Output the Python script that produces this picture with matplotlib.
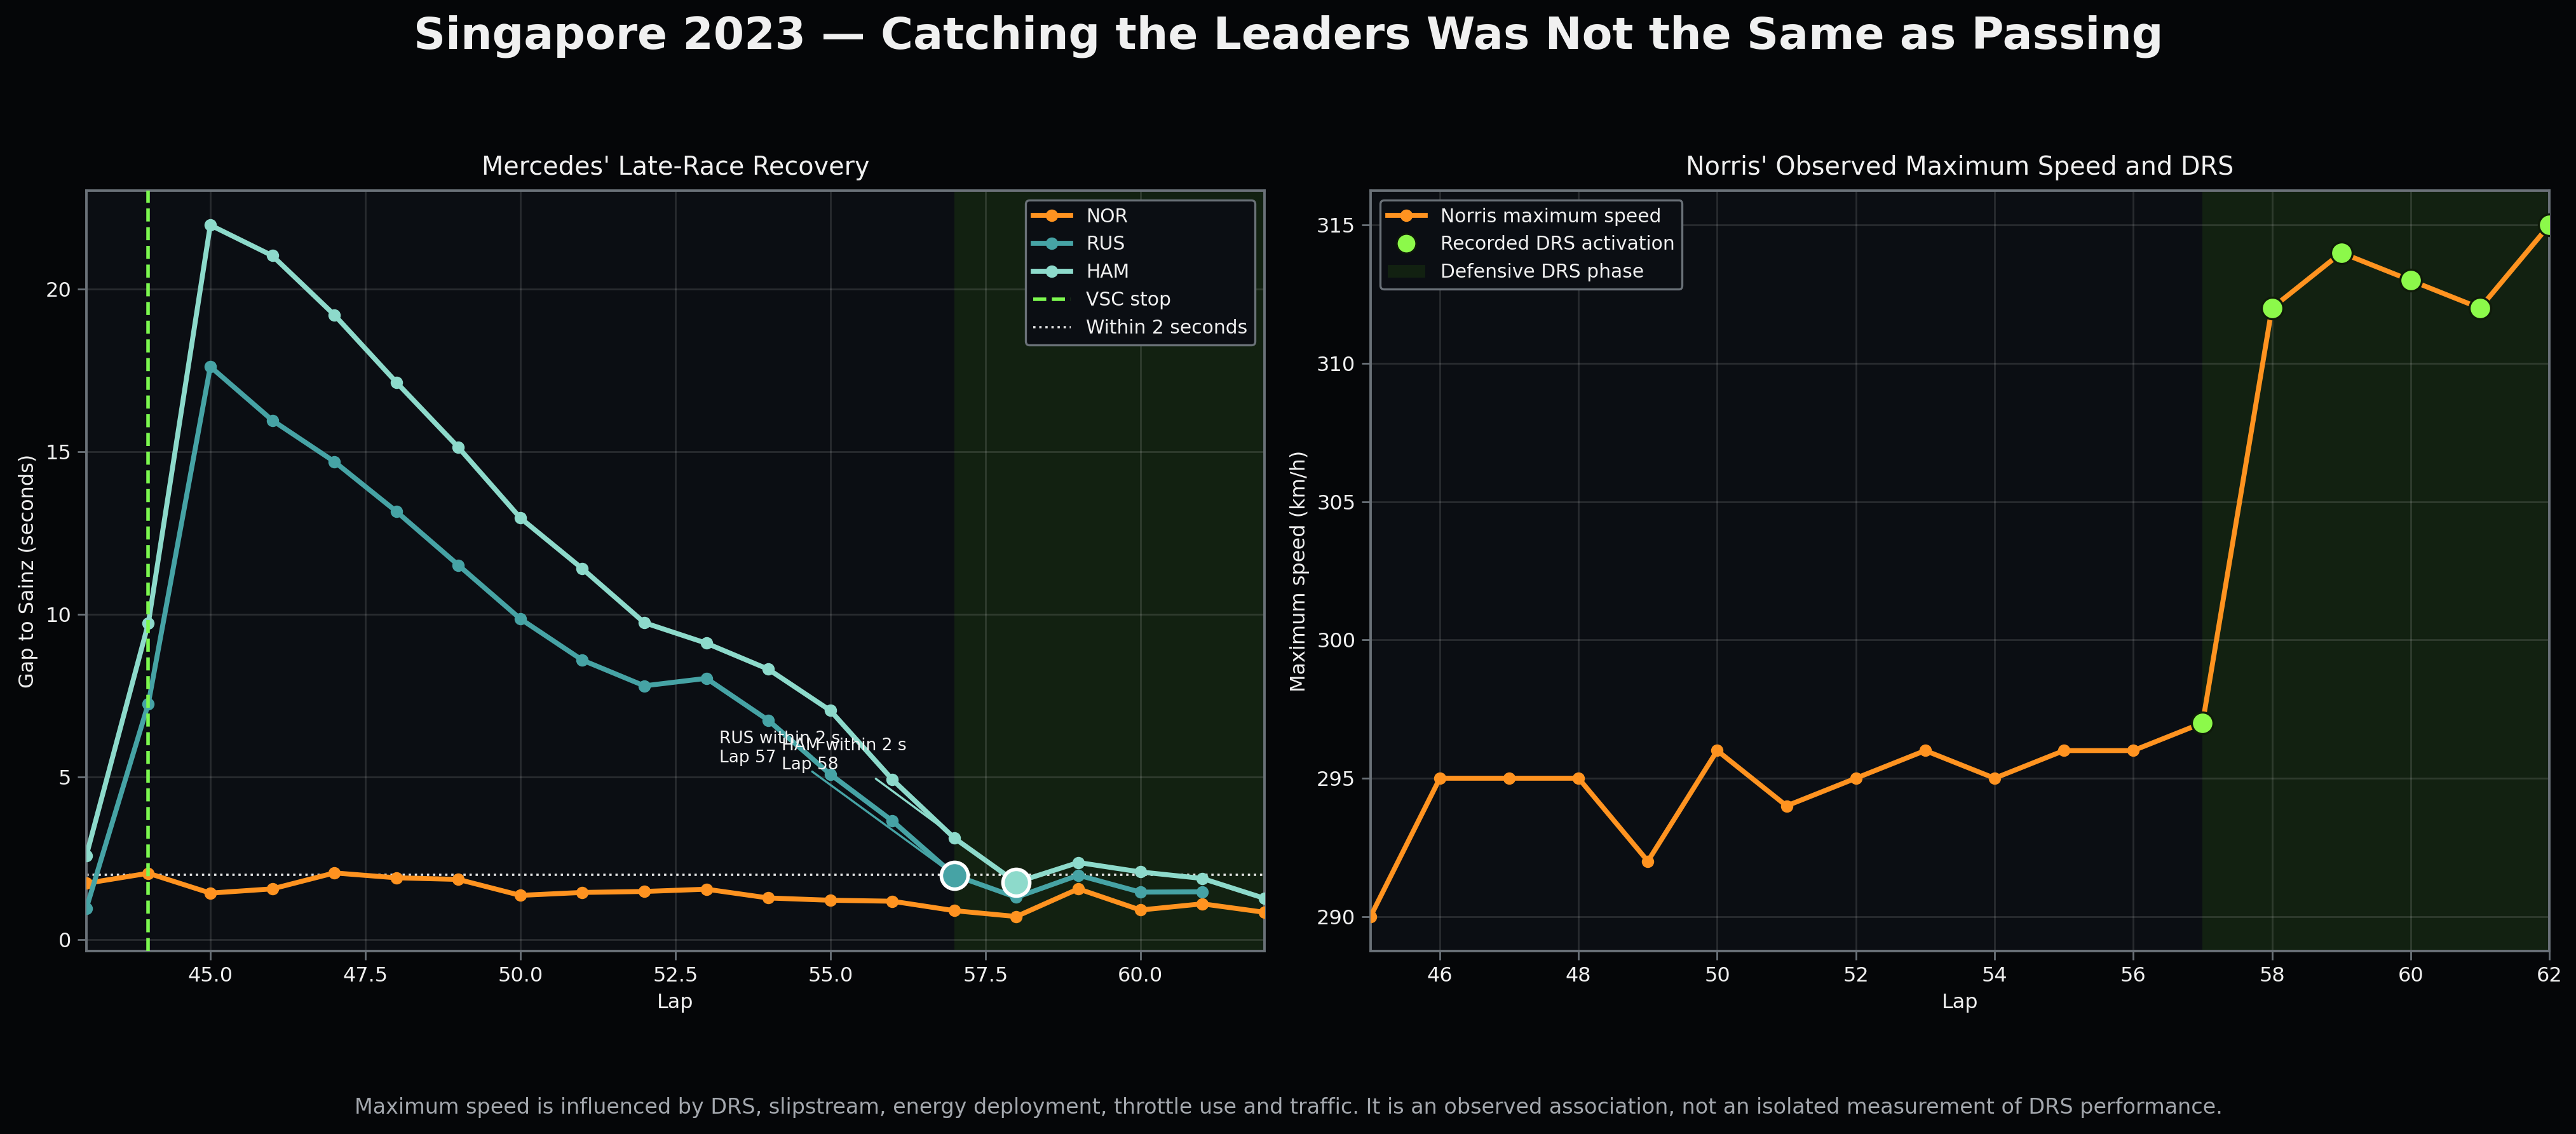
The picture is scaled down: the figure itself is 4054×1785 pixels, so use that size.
import numpy as np
import matplotlib
matplotlib.use("Agg")
import matplotlib.pyplot as plt
from matplotlib.lines import Line2D
from matplotlib.patches import Patch

# gap to Sainz, laps 43-62 (RUS crashed on the last lap)
laps_gap = list(range(43, 63))
nor_gap = [1.73, 2.04, 1.43, 1.56, 2.05, 1.90, 1.85, 1.36, 1.45, 1.48,
           1.55, 1.28, 1.21, 1.18, 0.89, 0.71, 1.56, 0.91, 1.10, 0.84]
rus_gap = [0.96, 7.25, 17.61, 15.96, 14.69, 13.16, 11.51, 9.86, 8.59, 7.80,
           8.03, 6.74, 5.08, 3.65, 1.98, 1.30, 1.98, 1.46, 1.47, np.nan]
ham_gap = [2.58, 9.72, 21.96, 21.02, 19.20, 17.13, 15.13, 12.96, 11.40, 9.74,
           9.11, 8.31, 7.04, 4.92, 3.12, 1.76, 2.37, 2.08, 1.88, 1.27]

# Norris max speed per lap
laps_speed = list(range(45, 63))
nor_speed = [290, 295, 295, 295, 292, 296, 294, 295, 296, 295,
             296, 296, 297, 312, 314, 313, 312, 315]
drs_laps = [57, 58, 59, 60, 61, 62]

vsc_lap = 44
drs_phase = (57, 62)
threshold = 2.0

BG = "#050608"
AX_BG = "#0b0e13"
SPINE = "#6a7178"
TXT = "#f0f0f0"
C_NOR = "#ff9320"
C_RUS = "#46a3a5"
C_HAM = "#8ddacb"
C_VSC = "#7cf74f"
C_DRS = "#8cf94a"
C_PHASE = "#1c3a10"

plt.rcParams.update({
    "font.family": "DejaVu Sans",
    "text.color": TXT,
    "axes.labelcolor": TXT,
    "xtick.color": TXT,
    "ytick.color": TXT,
})

fig = plt.figure(figsize=(20.275, 8.925), dpi=200, facecolor=BG)
ax1 = fig.add_axes([0.0335, 0.1613, 0.4572, 0.6707])
ax2 = fig.add_axes([0.5319, 0.1613, 0.4575, 0.6707])


def style(ax):
    ax.set_facecolor(AX_BG)
    for s in ax.spines.values():
        s.set_color(SPINE)
        s.set_linewidth(1.4)
    ax.grid(True, color="#ffffff", alpha=0.12, lw=1)
    ax.tick_params(labelsize=11.5, color=SPINE, length=5, width=1)
    ax.set_axisbelow(True)


# ---- left: gaps
style(ax1)
ax1.axvspan(*drs_phase, color=C_PHASE, alpha=0.45, lw=0, zorder=0)
ax1.plot(laps_gap, nor_gap, "-o", color=C_NOR, lw=2.8, ms=6, label="NOR", zorder=3)
ax1.plot(laps_gap, rus_gap, "-o", color=C_RUS, lw=2.8, ms=6, label="RUS", zorder=3)
ax1.plot(laps_gap, ham_gap, "-o", color=C_HAM, lw=2.8, ms=6, label="HAM", zorder=3)
ax1.axvline(vsc_lap, color=C_VSC, ls="--", lw=2, label="VSC stop", zorder=4)
ax1.axhline(threshold, color="#ffffff", ls=":", lw=1.3, alpha=0.9,
            label="Within 2 seconds", zorder=2)

for name, vals, col in [("RUS", rus_gap, C_RUS), ("HAM", ham_gap, C_HAM)]:
    idx = next(i for i, v in enumerate(vals) if laps_gap[i] > 50 and v <= threshold)
    lap, gap = laps_gap[idx], vals[idx]
    ax1.scatter([lap], [gap], s=230, color=col, edgecolor="#ffffff",
                linewidth=2, zorder=6)
    ax1.annotate(f"{name} within 2 s\nLap {lap}", xy=(lap, gap),
                 xytext=(-133, 72), textcoords="offset points",
                 ha="left", va="center", fontsize=9.5, color=TXT,
                 arrowprops=dict(arrowstyle="->", color=col, lw=1.2), zorder=5)

ax1.set_xlim(43, 62)
ax1.set_title("Mercedes' Late-Race Recovery", fontsize=14.3, color=TXT, pad=9)
ax1.set_xlabel("Lap", fontsize=11.5)
ax1.set_ylabel("Gap to Sainz (seconds)", fontsize=11.5)
leg1 = ax1.legend(loc="upper right", fontsize=10.7, facecolor=AX_BG,
                  edgecolor=SPINE, framealpha=1)
leg1.get_frame().set_linewidth(1.2)
for t in leg1.get_texts():
    t.set_color(TXT)

# ---- right: top speed
style(ax2)
ax2.axvspan(*drs_phase, color=C_PHASE, alpha=0.45, lw=0, zorder=0)
ax2.plot(laps_speed, nor_speed, "-o", color=C_NOR, lw=2.8, ms=6, zorder=3)
drs_speed = [nor_speed[laps_speed.index(l)] for l in drs_laps]
ax2.scatter(drs_laps, drs_speed, s=150, color=C_DRS, edgecolor="#0f1a0a",
            linewidth=1.2, zorder=5)
ax2.set_xlim(45, 62)
ax2.set_title("Norris' Observed Maximum Speed and DRS", fontsize=14.3, color=TXT, pad=9)
ax2.set_xlabel("Lap", fontsize=11.5)
ax2.set_ylabel("Maximum speed (km/h)", fontsize=11.5)
handles = [
    Line2D([], [], color=C_NOR, lw=2.8, marker="o", ms=6, label="Norris maximum speed"),
    Line2D([], [], color=C_DRS, lw=0, marker="o", ms=11, markeredgecolor="#0f1a0a",
           label="Recorded DRS activation"),
    Patch(facecolor=C_PHASE, alpha=0.45, lw=0, label="Defensive DRS phase"),
]
leg2 = ax2.legend(handles=handles, loc="upper left", fontsize=10.7, facecolor=AX_BG,
                  edgecolor=SPINE, framealpha=1)
leg2.get_frame().set_linewidth(1.2)
for t in leg2.get_texts():
    t.set_color(TXT)

fig.suptitle("Singapore 2023 \u2014 Catching the Leaders Was Not the Same as Passing",
             fontsize=25, fontweight="bold", color=TXT, y=0.968, va="center")
fig.text(0.5, 0.0235,
         "Maximum speed is influenced by DRS, slipstream, energy deployment, throttle use "
         "and traffic. It is an observed association, not an isolated measurement of DRS performance.",
         ha="center", va="center", fontsize=12, color="#a3a7ad")

fig.savefig("out.png", dpi=200, facecolor=BG)
